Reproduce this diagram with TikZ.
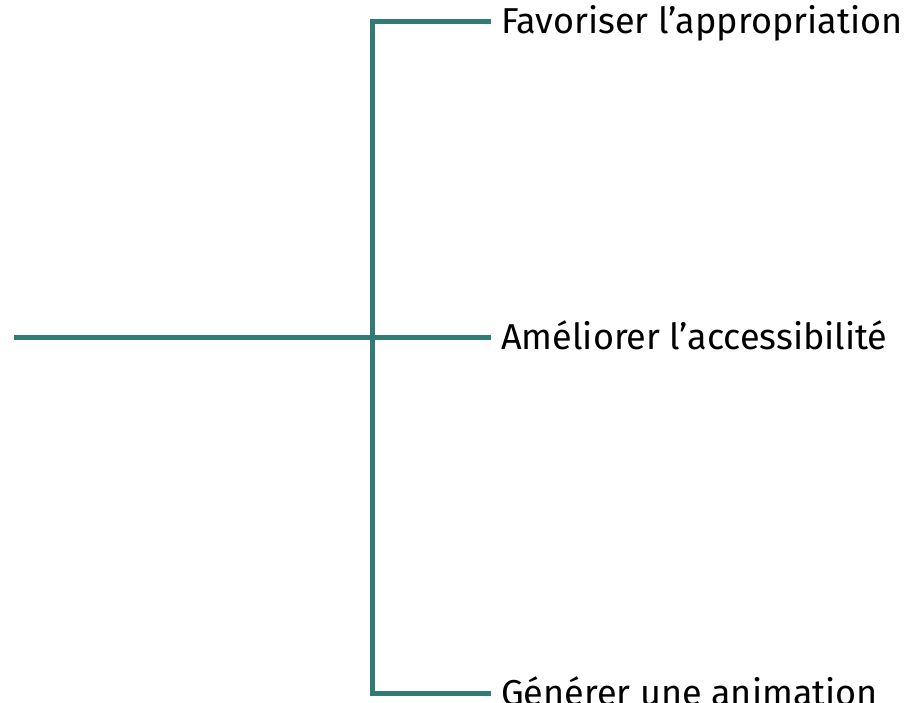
\documentclass[tikz,border=0pt]{standalone}
\usepackage{fontspec}
\setmainfont{Fira Sans}
\definecolor{teal1}{RGB}{50,123,116}
\begin{document}
\begin{tikzpicture}[x=1pt,y=-1pt,
  conn/.style={draw=teal1,line width=5pt},
  lab/.style={anchor=base west,inner sep=0pt,font=\fontsize{36}{42}\selectfont}]
\useasboundingbox (0,0) rectangle (909,703);
\coordinate (root) at (14,337);
\coordinate (hub) at (372,337);
\coordinate (top) at (372,22);
\coordinate (bot) at (372,693);
\coordinate (t1) at (491,22);
\coordinate (t2) at (491,337);
\coordinate (t3) at (491,693);
\node[lab] (l1) at (501,34) {Favoriser l’appropriation};
\node[lab] (l2) at (501,349) {Améliorer l’accessibilité};
\node[lab] (l3) at (501,705) {Générer une animation};
\draw[conn] (root) -- (hub);
\draw[conn] (t1) -- (top) -- (bot) -- (t3);
\draw[conn] (hub) -- (t2);
\end{tikzpicture}
\end{document}
